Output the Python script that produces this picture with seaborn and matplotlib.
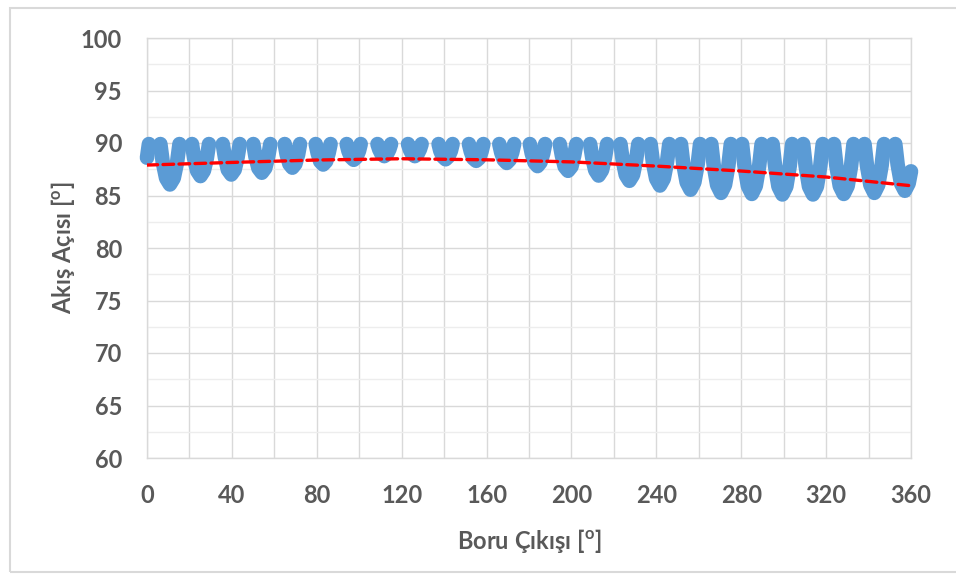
import numpy as np
import pandas as pd
import seaborn as sns
import matplotlib.pyplot as plt
from matplotlib.ticker import MultipleLocator
from matplotlib.patches import Rectangle

# Outlet position [deg] and flow angle [deg], one list per blade passage
position = [
    [0.0, 0.9],
    [6.3, 7.4, 9.0, 10.8, 12.6, 14.2, 15.3],
    [21.2, 22.2, 23.6, 25.2, 26.8, 28.2, 29.2],
    [35.7, 36.7, 38.1, 39.7, 41.3, 42.7, 43.7],
    [50.1, 51.1, 52.5, 54.1, 55.7, 57.1, 58.1],
    [64.9, 65.8, 67.1, 68.5, 69.9, 71.2, 72.1],
    [79.5, 80.4, 81.6, 83.0, 84.4, 85.6, 86.5],
    [94.1, 94.9, 96.1, 97.4, 98.7, 99.9, 100.7],
    [108.6, 109.4, 110.5, 111.8, 113.1, 114.2, 115.0],
    [123.0, 123.8, 124.9, 126.2, 127.5, 128.6, 129.4],
    [137.4, 138.2, 139.4, 140.7, 142.0, 143.2, 144.0],
    [151.7, 152.55, 153.7, 155.1, 156.5, 157.65, 158.5],
    [166.0, 166.9, 168.1, 169.5, 170.9, 172.1, 173.0],
    [180.4, 181.3, 182.6, 184.0, 185.4, 186.7, 187.6],
    [194.5, 195.5, 196.8, 198.4, 200.0, 201.3, 202.3],
    [208.8, 209.8, 211.2, 212.8, 214.4, 215.8, 216.8],
    [223.1, 224.15, 225.6, 227.3, 229.0, 230.45, 231.5],
    [237.3, 238.4, 239.9, 241.7, 243.5, 245.0, 246.1],
    [251.6, 252.7, 254.3, 256.1, 257.9, 259.5, 260.6],
    [265.9, 267.05, 268.65, 270.5, 272.35, 273.95, 275.1],
    [280.4, 281.55, 283.15, 285.0, 286.85, 288.45, 289.6],
    [294.8, 295.95, 297.55, 299.4, 301.25, 302.85, 304.0],
    [309.2, 310.35, 311.95, 313.8, 315.65, 317.25, 318.4],
    [323.7, 324.85, 326.45, 328.3, 330.15, 331.75, 332.9],
    [338.1, 339.25, 340.85, 342.7, 344.55, 346.15, 347.3],
    [352.6, 353.7, 355.3, 357.1, 358.9, 360.0],
]
flow_angle = [
    [88.6, 89.9],
    [89.9, 88.2, 86.65, 86.05, 86.65, 88.2, 89.9],
    [89.9, 88.55, 87.35, 86.85, 87.35, 88.55, 89.9],
    [89.9, 88.65, 87.45, 87.0, 87.45, 88.65, 89.9],
    [89.9, 88.7, 87.6, 87.17, 87.6, 88.7, 89.9],
    [89.9, 88.9, 88.0, 87.65, 88.0, 88.9, 89.9],
    [89.9, 89.05, 88.25, 87.95, 88.25, 89.05, 89.9],
    [89.9, 89.25, 88.65, 88.4, 88.65, 89.25, 89.9],
    [89.9, 89.4, 88.95, 88.75, 88.95, 89.4, 89.9],
    [89.9, 89.4, 88.95, 88.75, 88.95, 89.4, 89.9],
    [89.9, 89.25, 88.7, 88.45, 88.7, 89.25, 89.9],
    [89.9, 89.2, 88.55, 88.3, 88.55, 89.2, 89.9],
    [89.9, 89.1, 88.4, 88.1, 88.4, 89.1, 89.9],
    [89.9, 89.0, 88.15, 87.8, 88.15, 89.0, 89.9],
    [89.9, 88.8, 87.75, 87.35, 87.75, 88.8, 89.9],
    [89.9, 88.6, 87.4, 86.9, 87.4, 88.6, 89.9],
    [89.9, 88.35, 86.95, 86.4, 86.95, 88.35, 89.9],
    [89.9, 88.15, 86.6, 85.95, 86.6, 88.15, 89.9],
    [89.9, 88.0, 86.25, 85.55, 86.25, 88.0, 89.9],
    [89.9, 87.85, 86.0, 85.25, 86.0, 87.85, 89.9],
    [89.9, 87.8, 85.9, 85.15, 85.9, 87.8, 89.9],
    [89.9, 87.8, 85.85, 85.1, 85.85, 87.8, 89.9],
    [89.9, 87.8, 85.85, 85.1, 85.85, 87.8, 89.9],
    [89.9, 87.8, 85.9, 85.15, 85.9, 87.8, 89.9],
    [89.9, 87.85, 86.0, 85.25, 86.0, 87.85, 89.9],
    [89.9, 87.95, 86.15, 85.45, 86.15, 87.3],
]

# Trend line of the flow angle
trend_position = [0, 40, 80, 120, 160, 200, 240, 280, 320, 360]
trend_angle = [87.9, 88.15, 88.38, 88.5, 88.4, 88.2, 87.8, 87.33, 86.76, 85.93]

x_ticks = [0, 40, 80, 120, 160, 200, 240, 280, 320, 360]
y_ticks = [60, 65, 70, 75, 80, 85, 90, 95, 100]

df = pd.DataFrame({
    "passage": [i for i, p in enumerate(position) for _ in p],
    "pos": [v for p in position for v in p],
    "angle": [v for a in flow_angle for v in a],
})
trend = pd.DataFrame({"pos": trend_position, "angle": trend_angle})

sns.set_theme(style="white")
plt.rcParams["font.family"] = ["Lato", "DejaVu Sans"]

W, H = 956, 579
fig = plt.figure(figsize=(W / 100, H / 100), dpi=100)
ax = fig.add_axes([147 / W, 1 - 458 / H, (911 - 147) / W, (458 - 38) / H])

blue = "#5B9BD5"
sns.lineplot(data=df, x="pos", y="angle", units="passage", estimator=None,
             sort=False, color=blue, linewidth=10.5, ax=ax,
             solid_capstyle="round", solid_joinstyle="round", zorder=3)
for ln in ax.lines:
    ln.set_clip_on(False)
sns.lineplot(data=trend, x="pos", y="angle", estimator=None, sort=False,
             color="#FF0000", linewidth=2.4, ax=ax, zorder=4)
ax.lines[-1].set_dashes([3.2, 1.6])
ax.lines[-1].set_dash_capstyle("round")

ax.set_xlim(0, 360)
ax.set_ylim(60, 100)
ax.set_xticks(x_ticks)
ax.set_yticks(y_ticks)
ax.xaxis.set_minor_locator(MultipleLocator(20))
ax.yaxis.set_minor_locator(MultipleLocator(2.5))
ax.grid(True, which="major", color="#D9D9D9", linewidth=1.0)
ax.yaxis.grid(True, which="minor", color="#EDEDED", linewidth=1.0)
ax.xaxis.grid(True, which="minor", color="#D9D9D9", linewidth=1.0)
ax.set_axisbelow(True)
for s in ax.spines.values():
    s.set_color("#D9D9D9")
    s.set_linewidth(1.0)

ax.tick_params(axis="both", which="both", length=0)
ax.tick_params(axis="y", pad=18)
ax.tick_params(axis="x", pad=19)
for lab in ax.get_xticklabels() + ax.get_yticklabels():
    lab.set_fontsize(17)
    lab.set_fontweight("bold")
    lab.set_color("#595959")

ax.set_xlabel("Boru Çıkışı [$^{\\mathregular{o}}$]", fontsize=17,
              fontweight="bold", color="#595959", labelpad=14)
ax.set_ylabel("Akış Açısı [$^{\\mathregular{o}}$]", fontsize=17,
              fontweight="bold", color="#595959", labelpad=3)

fig.patches.append(Rectangle((10 / W, 1 - 572 / H), 1.2, (572 - 8) / H,
                             transform=fig.transFigure, fill=False,
                             edgecolor="#D9D9D9", linewidth=1.5))

fig.savefig("out.png", dpi=100)
